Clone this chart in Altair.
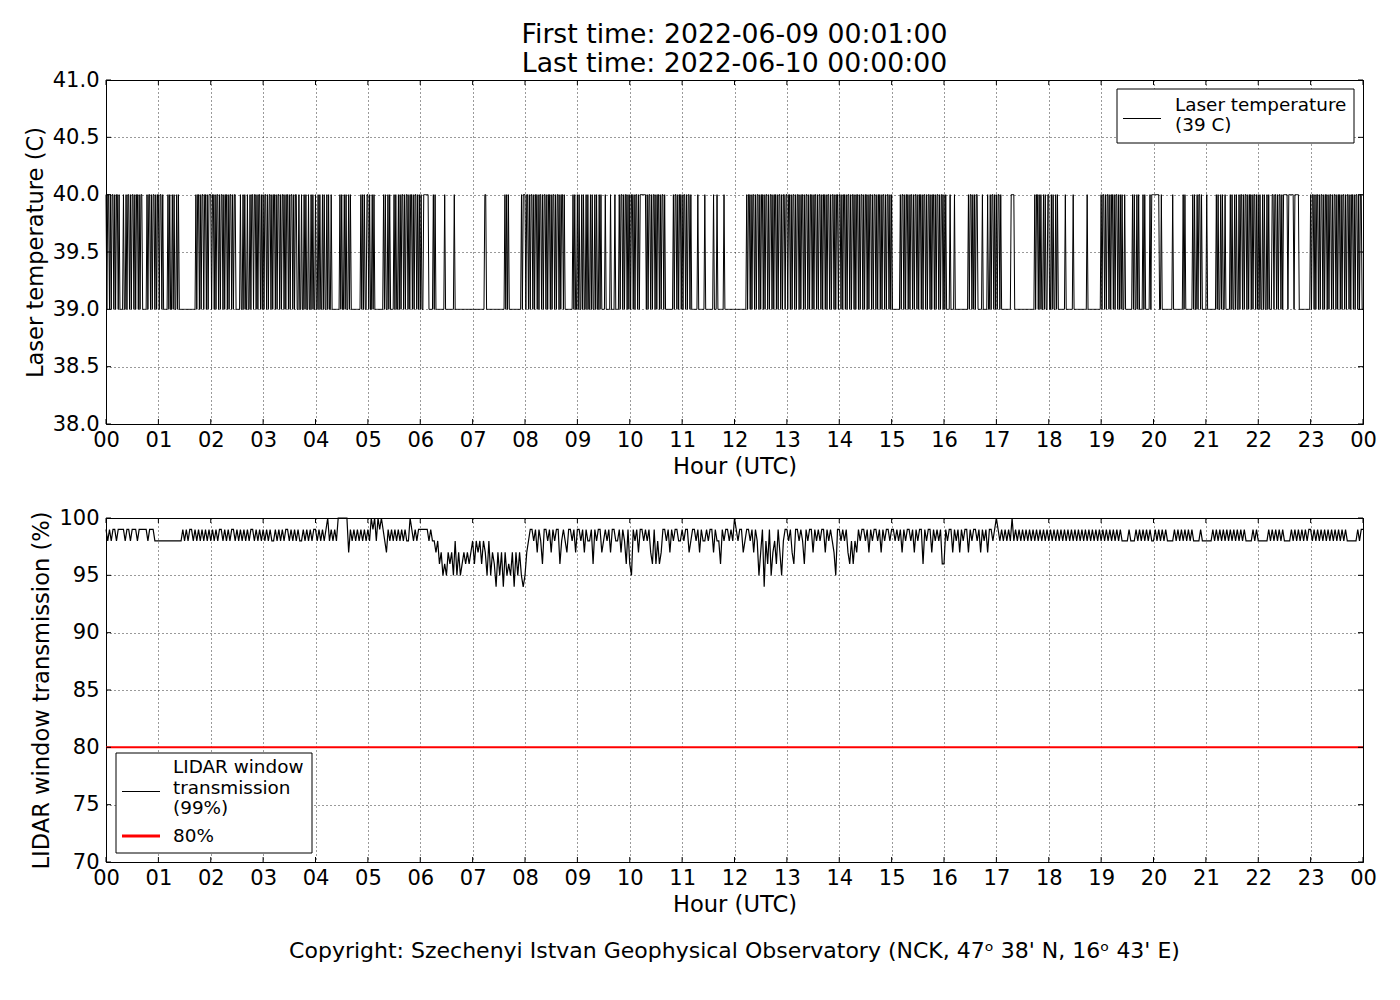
import altair as alt
import pandas as pd

# ---------------- data ----------------
HOUR_TICKS = list(range(25))
TEMP_TICKS = [38.0, 38.5, 39.0, 39.5, 40.0, 40.5, 41.0]
TRANS_TICKS = [70, 75, 80, 85, 90, 95, 100]

# Laser temperature, one string per hour (one char per minute), '0' = 39 C, '1' = 40 C
TEMP_BY_HOUR = [
    "101101011010110100001001011010110101101011000001011010110101",
    "101101000001010010100101000000000000000000010110101101101011",
    "101101011010110101101011010110000010010100100101101101011010",
    "101101011010110101101011010110101101011001001001010010010100",
    "100101001010010100100000000010100101001010000000000010101001",
    "101001010000000000101001010000101001010110101101011010110101",
    "010011111100000101000000000010000000000100000000000000000000",
    "000000000000001100000000000000000000010101000000000000001011",
    "101101011010110101101011010110101101011010110100000000010100",
    "101001010010100101001010010100001000001000010000101101011010",
    "101101011010111111101011010110101101011010000000001011010110",
    "101101011010000000100000001000000000100010000000100000000000",
    "000000000000001011010110101101011010110101101011010110101101",
    "101101011010110101101011010110101101011010110101101011010110",
    "110101101011010110101101011010110101101011010110101101011010",
    "100000000010110101101011010110101101011010110101101011010110",
    "101000010000100000000000000010110101011000001000001001011010",
    "101101000000000001111000000000000000000000001011010100101001",
    "100101001010000000010000000010000000000000001000000000000000",
    "101101011010110101101010100100000000101001010000101000001011",
    "111111100100000000000010000000000010100000000101001011010000",
    "010000000000101001010010000010100101001011010110101101011010",
    "101001010010100011011010110101111101111110111110000000000000",
    "101101011010110101101011010110101101011010110101101011010110",
]
TEMP_LAST = 39

# LIDAR window transmission, one string per hour (one char per 2 min), digit = 100 - value (%)
TRANS_BY_HOUR = [
    "121211211112112111211111211122",
    "222222222222221212112121212121",
    "212121121212112121212121121212",
    "121212212121211212121221212121",
    "121212102121200000031212121212",
    "1201020101231212121212122012121",
    "111112122324354534352535434343",
    "24232423525346353635453635356",
    "532112131241121312114212311213",
    "112131221412113212131122131241",
    "451213112121341424311213121122",
    "121132112131221211312241211212",
    "012113211213125316241532413521",
    "121341121241211312121131212351",
    "121213424231211213121121312112",
    "112121312112131211412113121214",
    "412113121312113121121312131121",
    "012121212021212121212121212121",
    "212121212121212121212121212121",
    "212121212121222212221212121212",
    "212121212222121212121212222122",
    "222212121212121212121212222121",
    "222222121212121222212121212121",
    "121212121212121212121222222121",
]
TRANS_LAST = 99
THRESHOLD = [80]

TITLE_LINES = ["First time: 2022-06-09 00:01:00", "Last time: 2022-06-10 00:00:00"]
COPYRIGHT = "Copyright: Szechenyi Istvan Geophysical Observatory (NCK, 47\u1d52  38' N, 16\u1d52  43' E)"


def expand(strings, decode, last):
    t, v = [], []
    for h, s in enumerate(strings):
        s = s.replace(" ", "")
        n = len(s)
        for i, c in enumerate(s):
            t.append(h + i / n)
            v.append(decode(c))
    t.append(24.0)
    v.append(last)
    return pd.DataFrame({"t": t, "v": v})


temp_df = expand(TEMP_BY_HOUR, lambda c: 39 + int(c), TEMP_LAST)
trans_df = expand(TRANS_BY_HOUR, lambda c: 100 - int(c), TRANS_LAST)
xticks_df = pd.DataFrame({"t": HOUR_TICKS})
temp_ticks_df = pd.DataFrame({"v": TEMP_TICKS})
trans_ticks_df = pd.DataFrame({"v": TRANS_TICKS})
thr_df = pd.DataFrame({"v": THRESHOLD})
one = pd.DataFrame({"a": [0]})

W, H = 1257, 344
FONT = "DejaVu Sans"
TICK = 5
LEG_FS = 18.4


def x_enc():
    return alt.X(
        "t:Q",
        scale=alt.Scale(domain=[0, 24], nice=False, zero=False),
        axis=alt.Axis(
            values=HOUR_TICKS,
            labelExpr="(datum.value % 24 < 10 ? '0' : '') + (datum.value % 24)",
            title="Hour (UTC)",
            labelFlush=False,
            labelOverlap=False,
            ticks=False,
            domain=False,
            labelPadding=5,
            titlePadding=5,
        ),
    )


def y_enc(domain, ticks, fmt, title):
    return alt.Y(
        "v:Q",
        scale=alt.Scale(domain=domain, nice=False, zero=False),
        axis=alt.Axis(
            values=ticks,
            format=fmt,
            title=title,
            labelFlush=False,
            labelOverlap=False,
            ticks=False,
            domain=False,
            labelPadding=7,
            titlePadding=5,
        ),
    )


def frame_ticks(ydf, yenc):
    xe = x_enc()
    top = alt.Chart(xticks_df).mark_rule(color="black", strokeWidth=1).encode(
        x=xe, y=alt.value(0), y2=alt.value(TICK))
    bot = alt.Chart(xticks_df).mark_rule(color="black", strokeWidth=1).encode(
        x=xe, y=alt.value(H - TICK), y2=alt.value(H))
    left = alt.Chart(ydf).mark_rule(color="black", strokeWidth=1).encode(
        y=yenc, x=alt.value(0), x2=alt.value(TICK))
    right = alt.Chart(ydf).mark_rule(color="black", strokeWidth=1).encode(
        y=yenc, x=alt.value(W - TICK), x2=alt.value(W))
    return [top, bot, left, right]


def legend_box(x0, x1, y0, y1):
    return alt.Chart(one).mark_rect(fill="white", stroke="black", strokeWidth=1).encode(
        x=alt.value(x0), x2=alt.value(x1), y=alt.value(y0), y2=alt.value(y1))


def legend_line(x0, x1, y, color, width):
    return alt.Chart(one).mark_rule(color=color, strokeWidth=width).encode(
        x=alt.value(x0), x2=alt.value(x1), y=alt.value(y))


def legend_text(txt, x, y):
    return alt.Chart(one).mark_text(
        align="left", baseline="alphabetic", font=FONT, fontSize=LEG_FS, color="black"
    ).encode(x=alt.value(x), y=alt.value(y), text=alt.value(txt))


# ---------------- top panel ----------------
ty = y_enc([38, 41], TEMP_TICKS, ".1f", "Laser temperature (C)")
temp_line = alt.Chart(temp_df).mark_line(color="black", strokeWidth=1, interpolate="linear").encode(
    x=x_enc(), y=ty)

top = alt.layer(
    temp_line,
    *frame_ticks(temp_ticks_df, ty),
    legend_box(1011, 1248, 9, 63),
    legend_line(1017, 1055, 38.5, "black", 1),
    legend_text("Laser temperature", 1069, 31),
    legend_text("(39 C)", 1069, 51),
).properties(
    width=W,
    height=H,
    title=alt.TitleParams(
        text=TITLE_LINES, font=FONT, fontSize=26.7, fontWeight="normal", color="black",
        anchor="middle", frame="group", lineHeight=29, offset=-9,
    ),
)

# ---------------- bottom panel ----------------
by = y_enc([70, 100], TRANS_TICKS, "d", "LIDAR window transmission (%)")
trans_line = alt.Chart(trans_df).mark_line(color="black", strokeWidth=1.2, interpolate="linear").encode(
    x=x_enc(), y=by)
thr_rule = alt.Chart(thr_df).mark_rule(color="#ff0000", strokeWidth=2).encode(y=by)

bottom = alt.layer(
    trans_line,
    thr_rule,
    *frame_ticks(trans_ticks_df, by),
    legend_box(10, 206, 235, 335),
    legend_line(16, 54, 273.5, "black", 1),
    legend_line(16, 54, 318, "#ff0000", 3),
    legend_text("LIDAR window", 67, 255),
    legend_text("transmission", 67, 276),
    legend_text("(99%)", 67, 296),
    legend_text("80%", 67, 324),
).properties(
    width=W,
    height=H,
    title=alt.TitleParams(
        text=COPYRIGHT, orient="bottom", font=FONT, fontSize=22, fontWeight="normal",
        color="black", anchor="middle", frame="group", offset=25,
    ),
)

chart = (
    alt.vconcat(top, bottom, spacing=27)
    .resolve_scale(y="independent")
    .properties(padding={"left": 15, "top": 13, "right": 10, "bottom": 10}, background="white")
    .configure_view(stroke="black", strokeWidth=1)
    .configure_axis(
        labelFont=FONT, titleFont=FONT, labelFontSize=21, titleFontSize=22.6,
        labelColor="black", titleColor="black", titleFontWeight="normal",
        grid=True, gridColor="black", gridDash=[1, 3], gridWidth=0.8, gridOpacity=1,
    )
)

chart.save("out.html", embed_options={"renderer": "svg", "actions": False})
